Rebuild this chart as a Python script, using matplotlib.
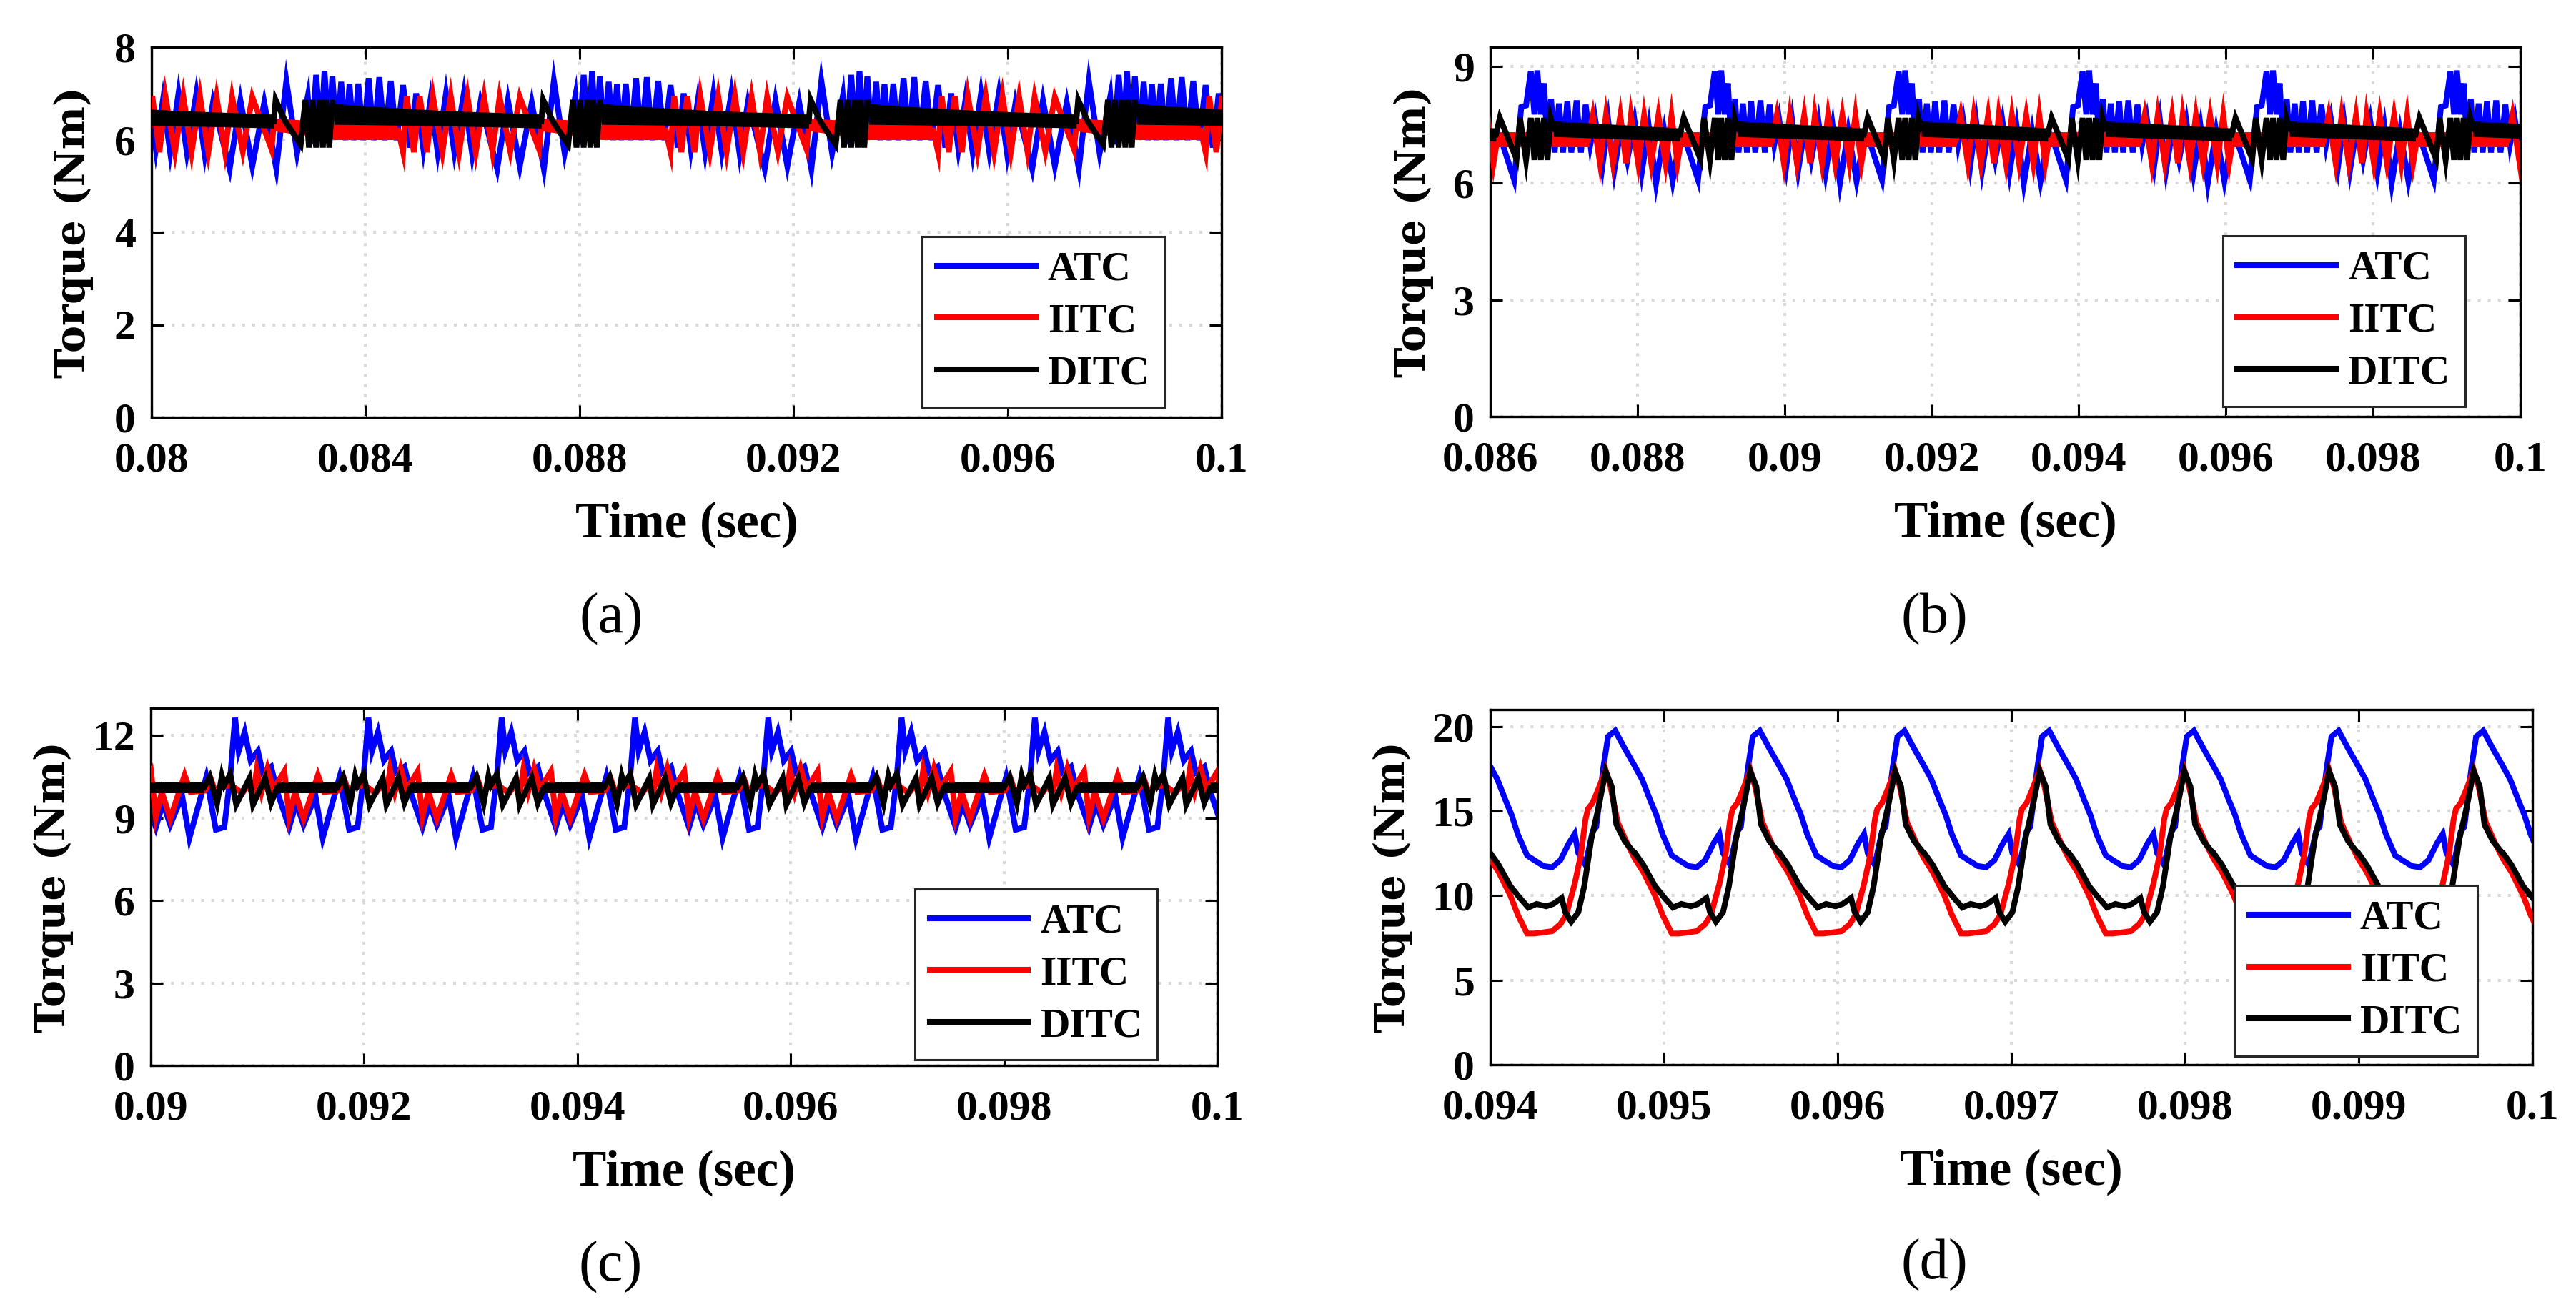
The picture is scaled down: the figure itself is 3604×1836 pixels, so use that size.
import matplotlib.pyplot as plt
import numpy as np

# ---- panel (a): 0.08-0.1 s, pattern repeats every 5 ms (offsets in microseconds)
a_t0, a_period = 0.08732, 0.005
a_atc_us = [13, 200, 401, 601, 668, 757, 846, 913, 993, 1060, 1144, 1225, 1305, 1380, 1461, 1545,
            1639, 1737, 1835, 1937, 2039, 2151, 2262, 2382, 2516, 2627, 2761, 2894, 3028, 3184,
            3340, 3518, 3674, 3830, 4141, 4342, 4564, 4787]
a_atc = [5.37, 7.27, 5.71, 6.94, 5.9, 7.40, 6.05, 7.48, 6.05, 7.37, 6.0, 7.25, 5.99, 7.2, 5.99, 7.21,
         5.99, 7.33, 5.99, 7.35, 5.99, 7.27, 5.99, 7.18, 5.83, 7.0, 5.8, 6.86, 5.73, 7.0,
         5.73, 7.0, 5.68, 6.81, 5.37, 6.85, 5.43, 6.8]
a_iitc_us = [0, 2271, 2293, 2382, 2449, 2583, 2694, 2828, 2939, 3117, 3273, 3429, 3585, 3741, 3896,
             4052, 4186, 4386, 4564, 4921, 4965]
a_iitc = [6.33, 6.2, 6.2, 5.73, 6.94, 5.73, 6.94, 5.73, 6.94, 5.73, 6.94, 5.73, 6.94, 5.73, 6.92,
          5.75, 6.92, 5.75, 6.92, 5.8, 6.3]
a_iitc_band_us = [-90, 1091, 2271]
a_iitc_band_lo = [6.2, 6.0, 6.0]
a_iitc_band_hi = [6.47, 6.38, 6.37]
a_ditc_us = [0, 178, 468, 557, 623, 690, 757, 824, 882, 935, 1002, 1060, 1091, 4965]
a_ditc = [6.86, 6.40, 5.89, 6.86, 5.83, 6.86, 5.83, 6.86, 5.83, 6.86, 5.83, 6.86, 6.55, 6.4]
a_ditc_band_us = [1091, 1781, 3117, 4965]
a_ditc_band_lo = [6.33, 6.32, 6.3, 6.25]
a_ditc_band_hi = [6.78, 6.72, 6.63, 6.55]
a_xticks = [0.08, 0.084, 0.088, 0.092, 0.096, 0.1]
a_yticks = [0, 2, 4, 6, 8]

# ---- panel (b): 0.086-0.1 s, period 2.5 ms
b_t0, b_period = 0.08863, 0.0025
b_atc_us = [0, 194, 292, 356, 421, 470, 509, 557, 600, 648, 697, 745, 804, 859, 917, 972, 1043,
            1102, 1167, 1231, 1296, 1393, 1474, 1555, 1653, 1734, 1831, 1928, 2025, 2123, 2236,
            2349, 2463]
b_atc = [7.22, 6.09, 7.96, 8.0, 8.88, 7.77, 8.9, 7.77, 8.57, 6.98, 8.17, 6.79, 8.05, 6.79, 8.11,
         6.79, 8.13, 6.79, 8.02, 7.0, 7.65, 6.43, 7.6, 6.33, 7.5, 6.61, 7.6, 6.27, 7.46, 6.0,
         7.34, 6.06, 7.3]
b_iitc_us = [0, 1199, 1264, 1361, 1442, 1539, 1637, 1717, 1782, 1880, 1961, 2058, 2155, 2252,
             2333, 2414, 2463]
b_iitc = [7.1, 7.1, 7.74, 6.52, 7.74, 6.52, 7.74, 6.52, 7.74, 6.52, 7.74, 6.52, 7.74, 6.52,
          7.74, 6.52, 7.1]
b_iitc_band_us = [-49, 1215]
b_iitc_band_lo = [6.92, 6.92]
b_iitc_band_hi = [7.32, 7.32]
b_ditc_us = [0, 227, 275, 356, 421, 470, 509, 557, 600, 648, 690, 729, 2447]
b_ditc = [7.68, 6.62, 7.68, 6.6, 7.68, 6.6, 7.68, 6.6, 7.68, 6.6, 7.68, 7.4, 7.25]
b_ditc_band_us = [729, 2447]
b_ditc_band_lo = [7.2, 7.08]
b_ditc_band_hi = [7.6, 7.42]
b_xticks = [0.086, 0.088, 0.09, 0.092, 0.094, 0.096, 0.098, 0.1]
b_yticks = [0, 3, 6, 9]

# ---- panel (c): 0.09-0.1 s, period 1.25 ms
c_t0, c_period = 0.09454, 0.00125
c_atc_us = [0, 34, 90, 146, 214, 259, 338, 394, 507, 574, 642, 754, 822, 980, 1070, 1149, 1205]
c_atc = [12.65, 11.44, 12.13, 11.09, 11.44, 10.66, 10.87, 9.97, 8.67, 9.54, 8.76, 9.80, 8.28,
         10.49, 8.58, 8.67, 10.5]
c_iitc_us = [0, 68, 124, 169, 203, 248, 304, 360, 462, 507, 563, 642, 777, 833, 968, 1025, 1070,
             1115, 1205]
c_iitc = [10.1, 9.9, 10.2, 9.85, 10.75, 9.95, 10.8, 10.05, 10.7, 9.05, 9.95, 8.98, 10.56, 9.95,
          10.0, 10.4, 9.9, 10.1, 10.2]
c_ditc_us = [11, 135, 169, 282, 338, 394, 957, 1013, 1081, 1126, 1149, 1205]
c_ditc = [9.49, 10.45, 9.49, 10.45, 9.55, 10.1, 10.1, 10.5, 9.53, 10.53, 10.2, 10.6]
c_ditc_band_us = [394, 957]
c_ditc_band_lo = [9.9, 9.9]
c_ditc_band_hi = [10.3, 10.3]
c_xticks = [0.09, 0.092, 0.094, 0.096, 0.098, 0.1]
c_yticks = [0, 3, 6, 9, 12]

# ---- panel (d): 0.094-0.1 s, period 0.833 ms
d_t0, d_period = 0.094, 0.000833
d_atc_us = [0, 41, 89, 123, 158, 212, 253, 308, 356, 404, 452, 486, 507, 548, 589, 610, 651, 678,
            719, 774]
d_atc = [17.64, 16.87, 15.61, 14.77, 13.65, 12.38, 12.10, 11.75, 11.68, 12.10, 13.09, 13.65,
         12.52, 11.82, 13.79, 14.07, 17.57, 19.4, 19.75, 18.7]
d_iitc_us = [0, 48, 116, 158, 212, 253, 308, 356, 404, 438, 486, 521, 548, 562, 589, 623, 664,
             692, 733, 788]
d_iitc = [12.17, 11.4, 10.0, 8.88, 7.76, 7.76, 7.83, 7.9, 8.32, 8.88, 10.7, 12.38, 14.49, 15.12,
          15.47, 16.31, 17.43, 16.45, 14.35, 13.09]
d_ditc_us = [0, 48, 116, 171, 219, 267, 322, 363, 411, 432, 466, 507, 541, 582, 623, 664, 699,
             726, 774, 829]
d_ditc = [12.52, 11.82, 10.56, 9.86, 9.3, 9.51, 9.37, 9.51, 9.86, 9.02, 8.46, 9.02, 10.56, 13.37,
          15.19, 17.36, 16.45, 14.21, 13.23, 12.52]
d_xticks = [0.094, 0.095, 0.096, 0.097, 0.098, 0.099, 0.1]
d_yticks = [0, 5, 10, 15, 20]

names = ['ATC', 'IITC', 'DITC']
colors = ['#0000ff', '#ff0000', '#000000']

plt.rcParams['font.family'] = ['Liberation Serif', 'DejaVu Serif']
plt.rcParams['font.weight'] = 'bold'

W, H = 3605, 1836
fig = plt.figure(figsize=(W / 100, H / 100), dpi=100)


def periods(t0, period, lo, hi):
    return range(int(np.floor((lo - t0) / period)) - 1, int(np.ceil((hi - t0) / period)) + 1)


def repeat(t0, period, offs_us, vals, ks):
    t = np.concatenate([t0 + k * period + np.array(offs_us) * 1e-6 for k in ks])
    return t, np.tile(vals, len(ks))


panels = [
    dict(box=(212, 1709, 66, 584), t0=a_t0, period=a_period, xticks=a_xticks, yticks=a_yticks,
         ylim=8, series=[(a_atc_us, a_atc), (a_iitc_us, a_iitc), (a_ditc_us, a_ditc)],
         bands=[(1, a_iitc_band_us, a_iitc_band_lo, a_iitc_band_hi),
                (2, a_ditc_band_us, a_ditc_band_lo, a_ditc_band_hi)],
         leg=(0.947, 0.027), ylab=-0.0728, cap='(a)', cap_xy=(855, 866)),
    dict(box=(2085, 3526, 66, 583), t0=b_t0, period=b_period, xticks=b_xticks, yticks=b_yticks,
         ylim=9.5, series=[(b_atc_us, b_atc), (b_iitc_us, b_iitc), (b_ditc_us, b_ditc)],
         bands=[(1, b_iitc_band_us, b_iitc_band_lo, b_iitc_band_hi),
                (2, b_ditc_band_us, b_ditc_band_lo, b_ditc_band_hi)],
         leg=(0.9466, 0.027), ylab=-0.0743, cap='(b)', cap_xy=(2706, 866)),
    dict(box=(211, 1703, 991, 1491), t0=c_t0, period=c_period, xticks=c_xticks, yticks=c_yticks,
         ylim=13, series=[(c_atc_us, c_atc), (c_iitc_us, c_iitc), (c_ditc_us, c_ditc)],
         bands=[(2, c_ditc_band_us, c_ditc_band_lo, c_ditc_band_hi)],
         leg=(0.944, 0.016), ylab=-0.0912, cap='(c)', cap_xy=(854, 1773)),
    dict(box=(2085, 3543, 993, 1490), t0=d_t0, period=d_period, xticks=d_xticks, yticks=d_yticks,
         ylim=21, series=[(d_atc_us, d_atc), (d_iitc_us, d_iitc), (d_ditc_us, d_ditc)],
         bands=[],
         leg=(0.947, 0.024), ylab=-0.0933, cap='(d)', cap_xy=(2706, 1770)),
]

for p in panels:
    l, r, t, b = p['box']
    ax = fig.add_axes([l / W, 1 - b / H, (r - l) / W, (b - t) / H])
    x0, x1 = p['xticks'][0], p['xticks'][-1]
    ks = periods(p['t0'], p['period'], x0, x1)

    for i, (offs, vals) in enumerate(p['series']):
        tt, vv = repeat(p['t0'], p['period'], offs, vals, ks)
        ax.plot(tt, vv, color=colors[i], lw=5.8, label=names[i], zorder=2 + i,
                solid_joinstyle='miter')
    for i, offs, lo, hi in p['bands']:
        for k in ks:
            tb = p['t0'] + k * p['period'] + np.array(offs) * 1e-6
            ax.fill_between(tb, lo, hi, color=colors[i], lw=0, zorder=2 + i)

    ax.set_xlim(x0, x1)
    ax.set_ylim(0, p['ylim'])
    ax.set_xticks(p['xticks'])
    ax.set_xticklabels(['%g' % v for v in p['xticks']])
    ax.set_yticks(p['yticks'])
    ax.set_axisbelow(True)
    ax.grid(True, color='#d9d9d9', linestyle=(0, (1, 2.5)), linewidth=2.9)
    ax.tick_params(direction='in', length=12, width=2.2, top=True, right=True,
                   labelsize=43, colors='black')
    ax.tick_params(axis='x', pad=25)
    ax.tick_params(axis='y', pad=16)
    for s in ax.spines.values():
        s.set_linewidth(2.4)

    ax.set_xlabel('Time (sec)', fontsize=51, fontweight='bold')
    ax.xaxis.set_label_coords(0.5, -118 / (b - t))
    ax.set_ylabel('Torque (Nm)', fontsize=41, fontweight='bold', family='DejaVu Serif')
    ax.yaxis.label.set_verticalalignment('center')
    ax.yaxis.set_label_coords(p['ylab'], 0.5)

    leg = ax.legend(loc='lower right', bbox_to_anchor=p['leg'], borderaxespad=0,
                    fontsize=41.3, fancybox=False, edgecolor='#262626', framealpha=1,
                    handlelength=2.4, handletextpad=0.3, labelspacing=0.36, borderpad=0.36)
    leg.get_frame().set_linewidth(2.2)

    cx, cy = p['cap_xy']
    fig.text(cx / W, 1 - cy / H, p['cap'], ha='center', va='center', fontsize=58,
             fontweight='normal')

fig.savefig('out.png', dpi=100)
